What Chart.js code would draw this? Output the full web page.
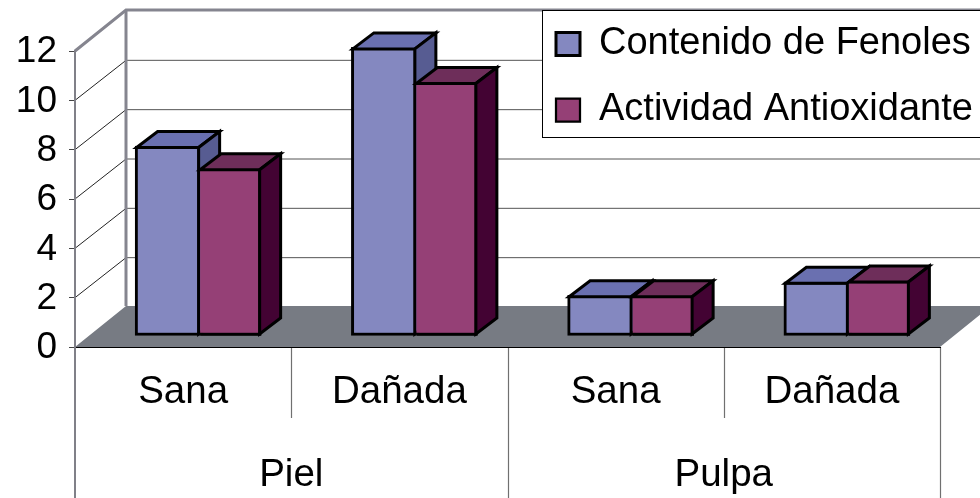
<!DOCTYPE html>
<html>
<head>
<meta charset="utf-8">
<style>html,body{margin:0;padding:0;background:#fff}canvas{display:block}</style>
<script src="https://cdn.jsdelivr.net/npm/chart.js@4/dist/chart.umd.min.js"></script>
</head>
<body>
<canvas id="c" width="980" height="498"></canvas>
<script>
const categories = ['Sana', 'Dañada', 'Sana', 'Dañada'];
const groups = ['Piel', 'Pulpa'];
const seriesNames = ['Contenido de Fenoles', 'Actividad Antioxidante'];
const fenoles = [7.7, 11.7, 1.65, 2.2];
const antioxidante = [6.8, 10.3, 1.65, 2.25];

const BLUE = {front:'#8488c0', top:'#6a70b0', side:'#575c92'};
const PLUM = {front:'#954076', top:'#6e2e5a', side:'#430333'};
const faces = [BLUE, PLUM];
const BW = 3;
const WALL = {dx:51, dy:41};
const BAR = {dx:17, dy:11, depthX:21, depthY:16};

function line(ctx, pts, color, w){
  ctx.beginPath();
  pts.forEach((p,i)=> i ? ctx.lineTo(p[0],p[1]) : ctx.moveTo(p[0],p[1]));
  ctx.strokeStyle=color; ctx.lineWidth=w; ctx.stroke();
}
function poly(ctx, pts, fill){
  ctx.beginPath();
  pts.forEach((p,i)=> i ? ctx.lineTo(p[0],p[1]) : ctx.moveTo(p[0],p[1]));
  ctx.closePath();
  ctx.fillStyle=fill; ctx.fill();
  ctx.strokeStyle='#000'; ctx.lineWidth=BW; ctx.lineJoin='miter'; ctx.stroke();
}
function drawExtrusion(ctx, el, col, hasLeftBorder){
  const p = el.getProps(['x','y','base','width'], true);
  const h = BW/2;
  const l = p.x - p.width/2 + (hasLeftBorder ? h : 0), r = p.x + p.width/2 - h;
  const t = p.y + h, b = p.base - h;
  const dx = BAR.depthX, dy = BAR.depthY;
  poly(ctx, [[l,t],[l+dx,t-dy],[r+dx,t-dy],[r,t]], col.top);
  poly(ctx, [[r,t],[r+dx,t-dy],[r+dx,b-dy],[r,b]], col.side);
}

const scene = {
  id:'scene',
  beforeDraw(chart){
    const ctx = chart.ctx, y = chart.scales.y, x = chart.scales.x;
    const L = x.left, R = x.right, B = y.bottom, T = y.top, W = chart.width;
    ctx.save();
    // floor
    ctx.fillStyle='#777b83';
    ctx.beginPath();
    ctx.moveTo(L,B); ctx.lineTo(L+WALL.dx,B-WALL.dy); ctx.lineTo(W+20,B-WALL.dy);
    ctx.lineTo(R+WALL.dx,B-WALL.dy); ctx.lineTo(R,B); ctx.closePath(); ctx.fill();
    // gridlines on side wall and back wall
    y.ticks.forEach(t=>{
      if(t.value===0 || t.value===y.max) return;
      const py = y.getPixelForValue(t.value);
      line(ctx, [[L,py],[L+WALL.dx,py-WALL.dy+1]], '#222', 1);
      line(ctx, [[L+WALL.dx,py-WALL.dy+1],[W,py-WALL.dy+1]], '#555', 1);
    });
    // wall edges
    line(ctx, [[L,T],[L+WALL.dx,T-WALL.dy],[W,T-WALL.dy]], '#85858f', 3);
    line(ctx, [[L+WALL.dx,T-WALL.dy],[L+WALL.dx,B-WALL.dy]], '#85858f', 3);
    // category separators
    const half = (R-L)/categories.length/2;
    categories.forEach((c,i)=>{
      const px = Math.round(x.getPixelForValue(i)+half)+0.5;
      const outer = i%2===1;
      line(ctx, [[px,B],[px,outer?chart.height:418]], '#707070', 1.2);
    });
    line(ctx, [[L,B],[L,chart.height]], '#808088', 2);
    // legend panel
    const lg = chart.legend;
    lg.left = 528; lg.top = -3; lg.right = 980; lg.bottom = 400;
    ctx.fillStyle='#fff'; ctx.fillRect(543,11,440,126);
    ctx.strokeStyle='#000'; ctx.lineWidth=1; ctx.strokeRect(542.5,10.5,445,127);
    ctx.restore();
  },
  beforeDatasetsDraw(chart){
    chart.ctx.save();
    chart.ctx.translate(BAR.dx,-BAR.dy);
  },
  afterDatasetsDraw(chart){
    const ctx = chart.ctx;
    const m0 = chart.getDatasetMeta(0), m1 = chart.getDatasetMeta(1);
    m0.data.forEach(el=>drawExtrusion(ctx, el, faces[0], true));
    m1.data.forEach(el=>el.draw(ctx));
    m1.data.forEach(el=>drawExtrusion(ctx, el, faces[1], false));
    ctx.restore();
  }
};

Chart.defaults.font.family = '"Liberation Sans", Arial, sans-serif';
Chart.defaults.color = '#000';

new Chart(document.getElementById('c'), {
  type:'bar',
  data:{
    labels:categories,
    datasets:[
      {label:seriesNames[0], data:fenoles, backgroundColor:BLUE.front, borderColor:'#000',
       borderWidth:BW, borderSkipped:false, barThickness:65},
      {label:seriesNames[1], data:antioxidante, backgroundColor:PLUM.front, borderColor:'#000',
       borderWidth:{top:BW,right:BW,bottom:BW,left:0}, borderSkipped:false, barThickness:61}
    ]
  },
  options:{
    responsive:false,
    animation:false,
    layout:{padding:{top:51,right:40,left:0,bottom:0}},
    plugins:{
      title:{display:false},
      tooltip:{enabled:false},
      legend:{
        display:true, position:'chartArea', align:'start',
        labels:{boxWidth:24, boxHeight:23, padding:28, color:'#000', font:{size:38}}
      }
    },
    scales:{
      x:{
        position:'bottom', weight:0, offset:true,
        grid:{display:false, drawTicks:false},
        border:{display:true, color:'#000', width:1},
        ticks:{font:{size:38.5}, padding:22, maxRotation:0, autoSkip:false, color:'#000'},
        afterFit(s){ s.height = 71; }
      },
      x2:{
        axis:'x', type:'category', labels:groups, position:'bottom', weight:1, offset:true,
        grid:{display:false, drawTicks:false},
        border:{display:false},
        ticks:{font:{size:38.5}, padding:34, maxRotation:0, autoSkip:false, color:'#000'},
        afterFit(s){ s.height = 80; }
      },
      y:{
        position:'left', min:0, max:12,
        grid:{drawOnChartArea:false, drawTicks:true, tickLength:6, color:'#444', lineWidth:1},
        border:{display:true, color:'#808088', width:2},
        ticks:{stepSize:2, font:{size:37}, padding:12, labelOffset:1, color:'#000'},
        afterFit(s){ s.width = 75; }
      }
    }
  },
  plugins:[scene]
});
</script>
</body>
</html>
